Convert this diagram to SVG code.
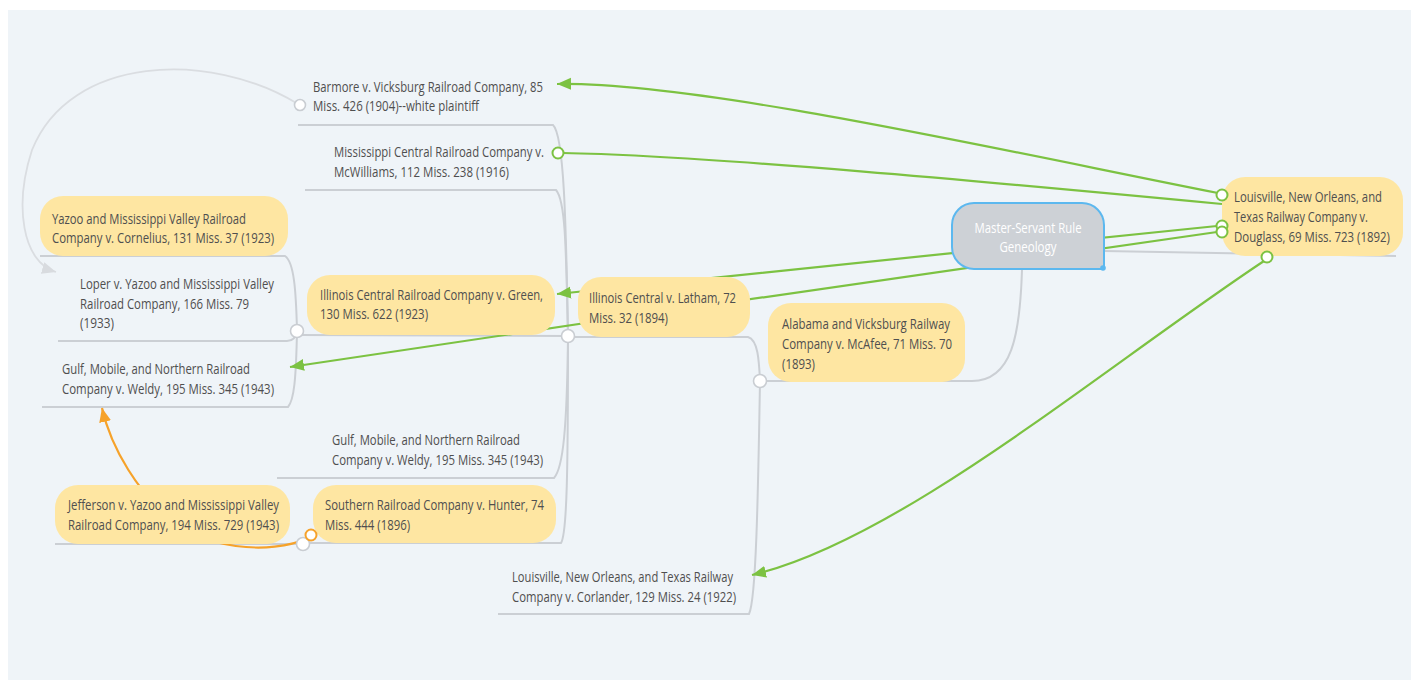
<svg xmlns="http://www.w3.org/2000/svg" width="1411" height="683" viewBox="0 0 1411 683">
<style>
.bg{fill:#eff4f8}
.br{fill:none;stroke:#cbcfd4;stroke-width:2}
.rg{fill:none;stroke:#7cc242;stroke-width:2.2}
.ro{fill:none;stroke:#f6a22a;stroke-width:2.2}
.rgy{fill:none;stroke:#dadde1;stroke-width:1.8}
.yel{fill:#fee6a2}
.t{font-family:"Open Sans","Noto Sans",sans-serif;font-size:14.5px;fill:#4f4f4f}
.tw{font-family:"Open Sans","Noto Sans",sans-serif;font-size:14.5px;fill:#ffffff}
.cg{fill:#fff;stroke:#c9cdd2;stroke-width:1.6}
.cgr{fill:#fff;stroke:#7cc242;stroke-width:2}
.cor{fill:#fff;stroke:#f6a22a;stroke-width:2}
</style>
<defs>
<marker id="ag" markerUnits="userSpaceOnUse" markerWidth="16" markerHeight="14" refX="14" refY="6" orient="auto"><path d="M0,0 L14,6 L0,12 Z" fill="#7cc242"/></marker>
<marker id="ao" markerUnits="userSpaceOnUse" markerWidth="16" markerHeight="14" refX="14" refY="6" orient="auto"><path d="M0,0 L14,6 L0,12 Z" fill="#f6a22a"/></marker>
<marker id="agy" markerUnits="userSpaceOnUse" markerWidth="16" markerHeight="14" refX="14" refY="6" orient="auto"><path d="M0,0 L14,6 L0,12 Z" fill="#d8dbdf"/></marker>
</defs>
<rect x="8" y="10" width="1403" height="670" class="bg"/>
<g id="connectors">
<path class="br" d="M1104,251 L1396,256"/>
<path class="br" d="M1022,270 C1020,335 1012,381 972,381 L760,381"/>
<path class="br" d="M760,381 C759,360 758,340 748,337 L568,337"/>
<path class="br" d="M760,381 C758,500 756,600 749,614 L498,614"/>
<path class="br" d="M568,336 C566,220 564,135 553,125 L298,125"/>
<path class="br" d="M568,336 C566,240 565,200 556,190 L305,190"/>
<path class="br" d="M568,336 L298,335"/>
<path class="br" d="M568,336 C567,430 563,468 554,478 L277,478"/>
<path class="br" d="M568,336 C568,470 567,534 561,543 L305,543"/>
<path class="br" d="M297,331 C296,290 294,262 285,256 L40,256"/>
<path class="br" d="M297,331 C296,337 293,341 287,341 L58,341"/>
<path class="br" d="M297,331 C296,380 294,400 288,407 L42,407"/>
<path class="br" d="M303,544 L55,544"/>
<path class="rgy" marker-end="url(#agy)" d="M298,104 C210,50 70,55 32,150 C14,205 22,262 56,272"/>
<path class="rg" marker-end="url(#ag)" d="M1218,193 C1000,150 700,82 557,84"/>
<path class="rg" d="M563,153 C700,155 1000,183 1222,204"/>
<path class="rg" marker-end="url(#ag)" d="M1217,226 C1000,248 750,274 557,294"/>
<path class="rg" marker-end="url(#ag)" d="M1217,232 C950,270 600,320 290,367"/>
<path class="rg" marker-end="url(#ag)" d="M1264,261 C1100,370 900,540 752,575"/>
<path class="ro" marker-end="url(#ao)" d="M308,538 C270,556 200,548 168,518 C140,492 112,452 102,408"/>
</g>
<g id="barmore">
<text class="t"><tspan x="313" y="92" textLength="230" lengthAdjust="spacingAndGlyphs">Barmore v. Vicksburg Railroad Company, 85</tspan><tspan x="313" y="111" textLength="166" lengthAdjust="spacingAndGlyphs">Miss. 426 (1904)--white plaintiff</tspan></text>
</g>
<g id="mscentral">
<text class="t"><tspan x="334" y="157" textLength="210" lengthAdjust="spacingAndGlyphs">Mississippi Central Railroad Company v.</tspan><tspan x="334" y="177" textLength="175" lengthAdjust="spacingAndGlyphs">McWilliams, 112 Miss. 238 (1916)</tspan></text>
</g>
<g id="cornelius">
<rect class="yel" x="40" y="196" width="248" height="60" rx="23"/>
<text class="t"><tspan x="52" y="224" textLength="194" lengthAdjust="spacingAndGlyphs">Yazoo and Mississippi Valley Railroad</tspan><tspan x="52" y="243" textLength="222" lengthAdjust="spacingAndGlyphs">Company v. Cornelius, 131 Miss. 37 (1923)</tspan></text>
</g>
<g id="loper">
<text class="t"><tspan x="80" y="289" textLength="194" lengthAdjust="spacingAndGlyphs">Loper v. Yazoo and Mississippi Valley</tspan><tspan x="80" y="309" textLength="169" lengthAdjust="spacingAndGlyphs">Railroad Company, 166 Miss. 79</tspan><tspan x="80" y="328" textLength="34" lengthAdjust="spacingAndGlyphs">(1933)</tspan></text>
</g>
<g id="green">
<rect class="yel" x="307" y="275" width="248" height="60" rx="23"/>
<text class="t"><tspan x="320" y="300" textLength="223" lengthAdjust="spacingAndGlyphs">Illinois Central Railroad Company v. Green,</tspan><tspan x="320" y="319" textLength="108" lengthAdjust="spacingAndGlyphs">130 Miss. 622 (1923)</tspan></text>
</g>
<g id="latham">
<rect class="yel" x="578" y="277" width="172" height="60" rx="23"/>
<text class="t"><tspan x="589" y="303" textLength="147" lengthAdjust="spacingAndGlyphs">Illinois Central v. Latham, 72</tspan><tspan x="589" y="323" textLength="79" lengthAdjust="spacingAndGlyphs">Miss. 32 (1894)</tspan></text>
</g>
<g id="mcafee">
<rect class="yel" x="768" y="303" width="197" height="79" rx="23"/>
<text class="t"><tspan x="782" y="329" textLength="168" lengthAdjust="spacingAndGlyphs">Alabama and Vicksburg Railway</tspan><tspan x="782" y="349" textLength="170" lengthAdjust="spacingAndGlyphs">Company v. McAfee, 71 Miss. 70</tspan><tspan x="782" y="369" textLength="33" lengthAdjust="spacingAndGlyphs">(1893)</tspan></text>
</g>
<g id="weldy-left">
<text class="t"><tspan x="62" y="374" textLength="188" lengthAdjust="spacingAndGlyphs">Gulf, Mobile, and Northern Railroad</tspan><tspan x="62" y="394" textLength="212" lengthAdjust="spacingAndGlyphs">Company v. Weldy, 195 Miss. 345 (1943)</tspan></text>
</g>
<g id="weldy-right">
<text class="t"><tspan x="332" y="445" textLength="188" lengthAdjust="spacingAndGlyphs">Gulf, Mobile, and Northern Railroad</tspan><tspan x="332" y="465" textLength="211" lengthAdjust="spacingAndGlyphs">Company v. Weldy, 195 Miss. 345 (1943)</tspan></text>
</g>
<g id="jefferson">
<rect class="yel" x="55" y="485" width="235" height="59" rx="23"/>
<text class="t"><tspan x="68" y="510" textLength="211" lengthAdjust="spacingAndGlyphs">Jefferson v. Yazoo and Mississippi Valley</tspan><tspan x="68" y="530" textLength="211" lengthAdjust="spacingAndGlyphs">Railroad Company, 194 Miss. 729 (1943)</tspan></text>
</g>
<g id="hunter">
<rect class="yel" x="313" y="485" width="243" height="58" rx="23"/>
<text class="t"><tspan x="325" y="510" textLength="219" lengthAdjust="spacingAndGlyphs">Southern Railroad Company v. Hunter, 74</tspan><tspan x="325" y="530" textLength="85" lengthAdjust="spacingAndGlyphs">Miss. 444 (1896)</tspan></text>
</g>
<g id="corlander">
<text class="t"><tspan x="512" y="582" textLength="221" lengthAdjust="spacingAndGlyphs">Louisville, New Orleans, and Texas Railway</tspan><tspan x="512" y="602" textLength="224" lengthAdjust="spacingAndGlyphs">Company v. Corlander, 129 Miss. 24 (1922)</tspan></text>
</g>
<g id="douglass">
<rect class="yel" x="1222" y="177" width="181" height="79" rx="23"/>
<text class="t"><tspan x="1234" y="202" textLength="148" lengthAdjust="spacingAndGlyphs">Louisville, New Orleans, and</tspan><tspan x="1234" y="222" textLength="134" lengthAdjust="spacingAndGlyphs">Texas Railway Company v.</tspan><tspan x="1234" y="242" textLength="156" lengthAdjust="spacingAndGlyphs">Douglass, 69 Miss. 723 (1892)</tspan></text>
</g>
<g id="central">
<path d="M974,203 H1082 A22,22 0 0 1 1104,225 V269 H974 A22,22 0 0 1 952,247 V225 A22,22 0 0 1 974,203 Z" fill="#cdd1d6" stroke="#5cb8ef" stroke-width="2"/>
<circle cx="1103" cy="268" r="2.8" fill="#5cb8ef"/>
<text class="tw" text-anchor="middle"><tspan x="1028" y="233" textLength="107" lengthAdjust="spacingAndGlyphs">Master-Servant Rule</tspan><tspan x="1028" y="252" textLength="57" lengthAdjust="spacingAndGlyphs">Geneology</tspan></text>
</g>
<g id="markers">
<circle class="cg" cx="760" cy="381" r="6.5"/>
<circle class="cg" cx="568" cy="336" r="6.5"/>
<circle class="cg" cx="297" cy="331" r="6.5"/>
<circle class="cg" cx="303" cy="544" r="6.5"/>
<circle class="cg" cx="300" cy="105" r="5.5"/>
<circle class="cgr" cx="558" cy="153" r="5.5"/>
<circle class="cgr" cx="1222" cy="195" r="5.5"/>
<circle class="cgr" cx="1222" cy="226" r="5.5"/>
<circle class="cgr" cx="1222" cy="232" r="5.5"/>
<circle class="cgr" cx="1267" cy="257" r="5.5"/>
<circle class="cor" cx="311" cy="535" r="5.5"/>
</g>
</svg>
